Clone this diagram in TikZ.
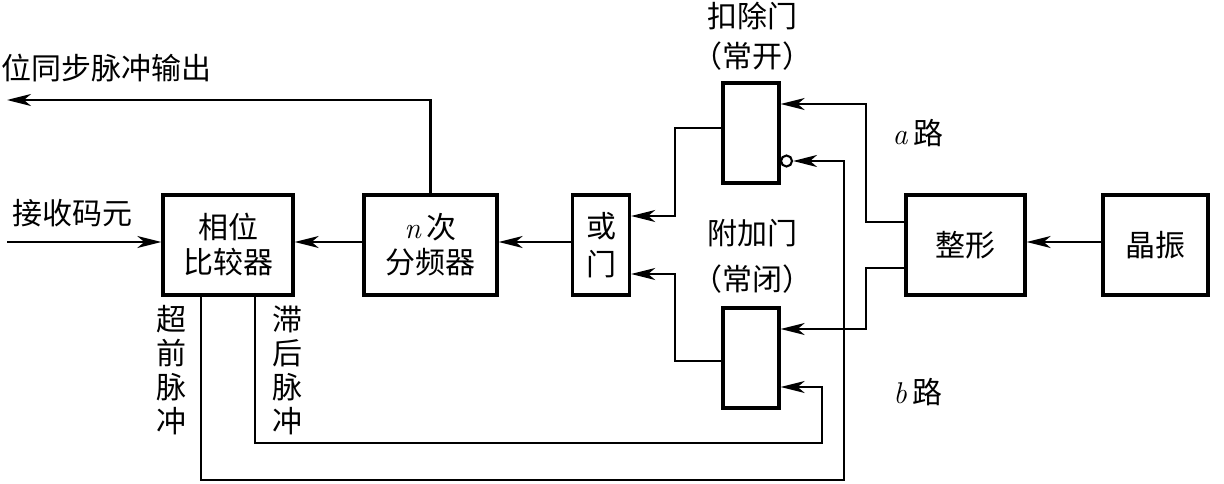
\documentclass[tikz,border=0pt]{standalone}
\usepackage{fontspec}
\newfontfamily\cjk{Noto Sans CJK SC}
\usetikzlibrary{arrows.meta}
\newcommand{\itl}[1]{{\rmfamily\itshape #1}\hspace{6pt}}
\begin{document}
\begin{tikzpicture}[x=1pt,y=-1pt,
  blk/.style={draw,line width=3.4pt,inner sep=0pt,align=center,font=\cjk\fontsize{30}{35}\selectfont},
  lbl/.style={inner sep=0pt,align=center,font=\cjk\fontsize{30}{35}\selectfont},
  con/.style={line width=2.1pt},
  arr/.style={con,-{Stealth[length=24pt,width=12pt,inset=7pt]}}]
\useasboundingbox (0,0) rectangle (1224,484);
% blocks
\node[blk,minimum width=130pt,minimum height=100pt] (xw) at (228,245) {相位\\比较器};
\node[blk,minimum width=133pt,minimum height=100pt] (nc) at (430.5,245) {\itl{n}次\\分频器};
\node[blk,minimum width=57pt,minimum height=100pt,font=\cjk\fontsize{30}{38}\selectfont] (hm) at (601,245) {或\\门};
\node[blk,minimum width=56pt,minimum height=100pt] (kc) at (751,133) {};
\node[blk,minimum width=56pt,minimum height=100pt] (fj) at (751,358) {};
\node[blk,minimum width=119pt,minimum height=100pt] (zx) at (965.5,245) {整形};
\node[blk,minimum width=105pt,minimum height=100pt] (jz) at (1155.5,245) {晶振};
% bubble
\node[draw,circle,line width=2.1pt,minimum size=11pt,inner sep=0pt] (bub) at (786.5,161) {};
% labels
\node[lbl] (lkc) at (752,16) {扣除门};
\node[lbl] (lkc2) at (752,56) {（常开）};
\node[lbl] (lfj) at (752,233) {附加门};
\node[lbl] (lfj2) at (752,279) {（常闭）};
\node[lbl] (la) at (918,133) {\itl{a}路};
\node[lbl] (lb) at (918,392) {\itl{b}路};
\node[lbl,anchor=west] (lout) at (1,68) {位同步脉冲输出};
\node[lbl,anchor=west] (lin) at (12,213) {接收码元};
\node[lbl,font=\cjk\fontsize{30}{34}\selectfont] (lcq) at (171,370) {超\\前\\脉\\冲};
\node[lbl,font=\cjk\fontsize{30}{34}\selectfont] (lzh) at (287,370) {滞\\后\\脉\\冲};
% coordinates
\coordinate (h) at (0,242);
\coordinate (outend) at (7,100);
\coordinate (inbeg) at (7,242);
\coordinate (ya) at (0,104);
\coordinate (yb) at (0,329);
\coordinate (ka) at (0,222);
\coordinate (kb) at (0,268);
\coordinate (xa) at (866,0);
\coordinate (xo) at (675,0);
\coordinate (y1) at (0,128);
\coordinate (y2) at (0,361);
\coordinate (o1) at (0,216);
\coordinate (o2) at (0,274);
\coordinate (cqx) at (201,0);
\coordinate (zhx) at (255,0);
\coordinate (cqb) at (844,480);
\coordinate (zhb) at (822,443);
\coordinate (yc) at (0,387);
% connectors
\draw[arr] (nc.north) |- (outend);
\draw[arr] (inbeg) -- (xw.west |- h);
\draw[arr] (nc.west |- h) -- (xw.east |- h);
\draw[arr] (hm.west |- h) -- (nc.east |- h);
\draw[arr] (jz.west |- h) -- (zx.east |- h);
\draw[arr] (kc.west |- y1) -| (xo |- o1) -- (hm.east |- o1);
\draw[arr] (fj.west |- y2) -| (xo |- o2) -- (hm.east |- o2);
\draw[arr] (zx.west |- ka) -| (xa |- ya) -- (kc.east |- ya);
\draw[arr] (zx.west |- kb) -| (xa |- yb) -- (fj.east |- yb);
\draw[arr] (xw.south -| cqx) |- (cqb) |- (bub.east);
\draw[arr] (xw.south -| zhx) |- (zhb) |- (fj.east |- yc);
\end{tikzpicture}
\end{document}
